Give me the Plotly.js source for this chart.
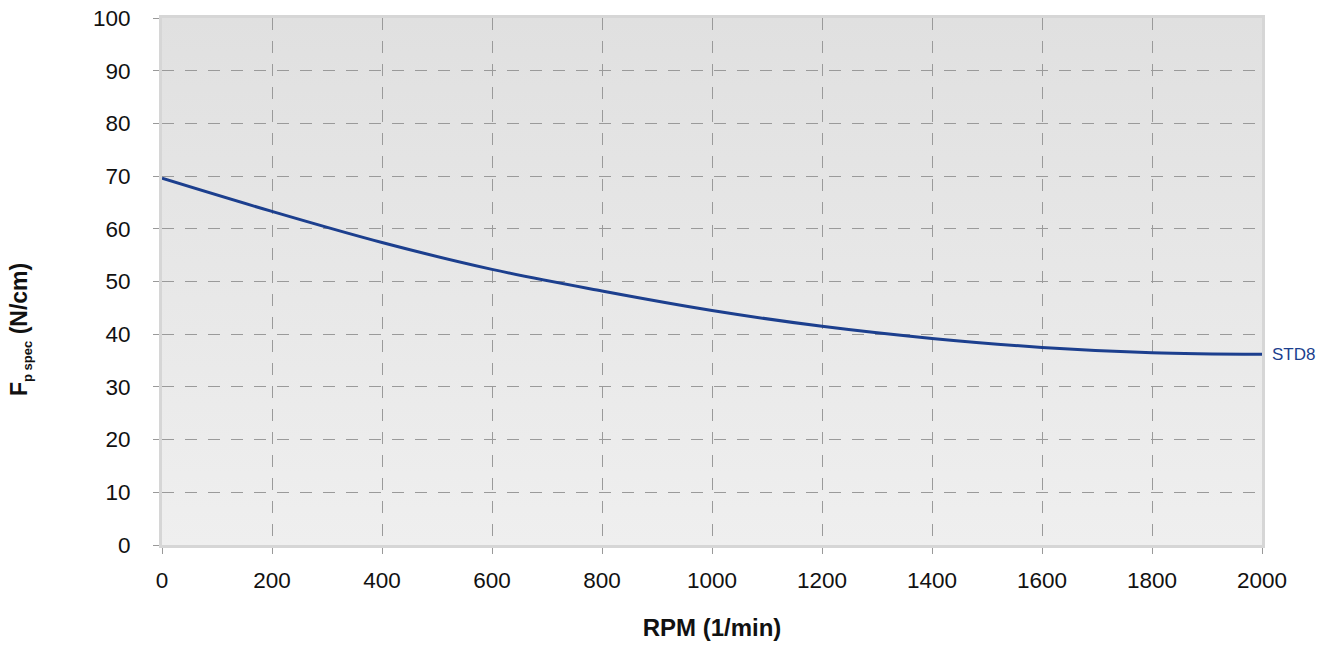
<!DOCTYPE html>
<html>
<head>
<meta charset="utf-8">
<script src="https://cdn.plot.ly/plotly-3.0.1.min.js"></script>
<style>html,body{margin:0;padding:0;background:#fff;}#chart{width:1333px;height:648px;}</style>
</head>
<body>
<div id="chart"></div>
<script>
const rpm = [0, 200, 400, 600, 800, 1000, 1200, 1400, 1600, 1800, 2000];
const fpspec = [69.6, 63.3, 57.4, 52.3, 48.2, 44.5, 41.5, 39.2, 37.5, 36.5, 36.2];
const seriesName = 'STD8';
const xTitle = 'RPM (1/min)';
const yTitle = '<b>F<sub><span style="font-size:13px">p spec</span></sub> (N/cm)</b>';

const gradSvg = '<svg xmlns="http://www.w3.org/2000/svg" width="10" height="100" preserveAspectRatio="none"><defs><linearGradient id="g" x1="0" y1="0" x2="0" y2="1"><stop offset="0" stop-color="#e0e0e0"/><stop offset="1" stop-color="#efefef"/></linearGradient></defs><rect width="10" height="100" fill="url(#g)"/></svg>';
const gradUri = 'data:image/svg+xml;base64,' + btoa(gradSvg);

const fam = 'Liberation Sans, Arial, sans-serif';
const tickFont = {family: fam, size: 22.5, color: '#111'};

const W = 1333, H = 648, ML = 162, MR = 71, MT = 18, MB = 103;
const plotW = W - ML - MR, plotH = H - MT - MB;

Plotly.newPlot('chart', [{
  x: rpm, y: fpspec, type: 'scatter', mode: 'lines', name: seriesName,
  line: {color: '#1c3f8e', width: 3, shape: 'spline', smoothing: 1},
  hoverinfo: 'skip'
}], {
  width: W, height: H,
  margin: {l: ML, r: MR, t: MT, b: MB},
  paper_bgcolor: '#ffffff',
  plot_bgcolor: 'rgba(0,0,0,0)',
  showlegend: false,
  font: {family: fam, color: '#111'},
  images: [{source: gradUri, xref: 'paper', yref: 'paper', x: 0, y: 1, sizex: 1, sizey: 1, sizing: 'stretch', xanchor: 'left', yanchor: 'top', layer: 'below'}],
  xaxis: {
    range: [0, 2000], dtick: 200, tick0: 0,
    showgrid: true, gridcolor: '#9a9a9a', griddash: '12px,11px', gridwidth: 1,
    zeroline: false, showline: true, mirror: true, linecolor: '#d6d6d6', linewidth: 3,
    ticks: 'outside', ticklen: 6, tickcolor: '#999', tickwidth: 1,
    ticklabelstandoff: 7,
    tickfont: tickFont,
    title: {text: '<b>' + xTitle + '</b>', font: {family: fam, size: 24, color: '#111'}, standoff: 28}
  },
  yaxis: {
    range: [0, 100], dtick: 10, tick0: 0,
    showgrid: true, gridcolor: '#9a9a9a', griddash: '12px,11px', gridwidth: 1,
    zeroline: false, showline: true, mirror: true, linecolor: '#d6d6d6', linewidth: 3,
    ticks: 'outside', ticklen: 6, tickcolor: '#999', tickwidth: 1,
    ticklabelstandoff: 18,
    tickfont: tickFont
  },
  annotations: [
    {x: rpm[rpm.length - 1], y: fpspec[fpspec.length - 1], xref: 'x', yref: 'y', text: seriesName, showarrow: false, xanchor: 'left', yanchor: 'middle', xshift: 8, font: {family: fam, size: 17, color: '#1c3f8e'}},
    {x: (20 - ML) / plotW, y: (545 - 330) / plotH, xref: 'paper', yref: 'paper', xanchor: 'center', yanchor: 'middle', text: yTitle, showarrow: false, textangle: -90, font: {family: fam, size: 23, color: '#111'}}
  ]
}, {staticPlot: true});
</script>
</body>
</html>
